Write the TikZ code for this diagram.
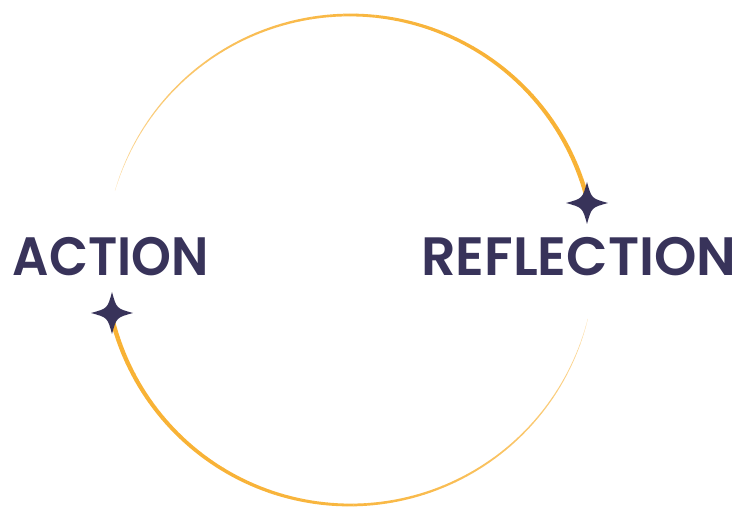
\documentclass[tikz,border=0pt]{standalone}
\usepackage{fontspec}
\setmainfont{Poppins}[BoldFont={Poppins SemiBold}]
\usepackage{tikz}
\definecolor{ringorange}{HTML}{F8B133}
\definecolor{starnavy}{HTML}{38335A}

\begin{document}
\begin{tikzpicture}[
  x=1pt, y=1pt,
  word/.style={
    font=\fontsize{54}{54}\selectfont\bfseries,
    text=starnavy,
    inner sep=0pt,
    anchor=base west
  },
  sparkle/.pic={
    \fill[starnavy] (0,21) .. controls (4.5,4.5) .. (21,0)
      .. controls (4.5,-4.5) .. (0,-21) .. controls (-4.5,-4.5) .. (-21,0)
      .. controls (-4.5,4.5) .. cycle;
  }
]
\useasboundingbox (0,0) rectangle (738,508);
\coordinate (hub) at (350,248);

% Upper arc - thick at the right star, fading out on the left
\foreach \i in {0,...,99}{
  \pgfmathsetmacro{\a}{13.5+\i*1.5}
  \pgfmathsetmacro{\w}{4.5*(1-\i/100)^0.7}
  \pgfmathtruncatemacro{\p}{100-55*(\i/100)^3}
  \draw[ringorange!\p!white, line width=\w pt]
    ([shift={(\a:245)}]hub) arc[start angle=\a, end angle=\a+1.55, radius=245];
}

% Lower arc - thick at the left star, fading out on the right
\foreach \i in {0,...,99}{
  \pgfmathsetmacro{\a}{192.5+\i*1.535}
  \pgfmathsetmacro{\w}{4.5*(1-\i/100)^0.7}
  \pgfmathtruncatemacro{\p}{100-55*(\i/100)^3}
  \draw[ringorange!\p!white, line width=\w pt]
    ([shift={(\a:245)}]hub) arc[start angle=\a, end angle=\a+1.6, radius=245];
}

% Stars
\pic at (587,305) {sparkle};
\pic at (112,195) {sparkle};

% Labels
\node[word, xscale=0.94, transform shape] (action) at (12.8,232) {ACTION};
\node[word] (reflection) at (421,232) {REFLECTION};
\end{tikzpicture}
\end{document}
